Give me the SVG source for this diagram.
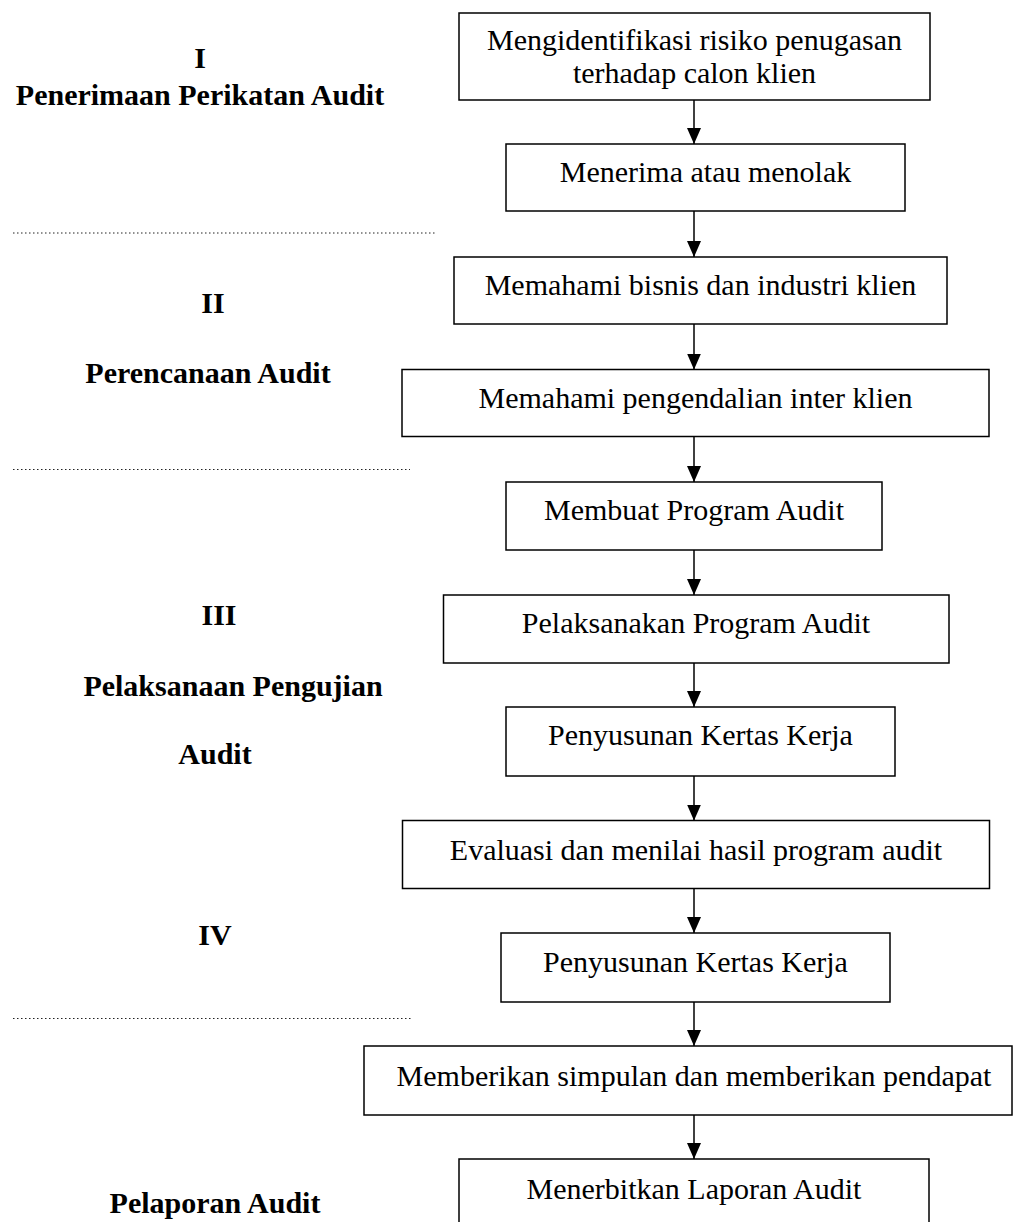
<svg xmlns="http://www.w3.org/2000/svg" width="1013" height="1222" viewBox="0 0 1013 1222">
<style>
  .box { fill: #ffffff; stroke: #000000; stroke-width: 1.5; }
  .t { font-family: "Liberation Serif", "Times New Roman", serif; font-size: 30px; fill: #000000; text-anchor: middle; }
  .lbl { font-family: "Liberation Serif", "Times New Roman", serif; font-size: 30px; font-weight: bold; fill: #000000; text-anchor: middle; }
  .conn { stroke: #000000; stroke-width: 1.5; fill: none; marker-end: url(#arrow); }
  .dot { stroke: #222222; stroke-width: 1; stroke-dasharray: 1.5 2.5; fill: none; }
</style>
<defs>
  <marker id="arrow" markerUnits="userSpaceOnUse" markerWidth="16" markerHeight="14" refX="16" refY="7" orient="auto">
    <path d="M0,0 L16,7 L0,14 z" fill="#000000"/>
  </marker>
</defs>
<rect width="1013" height="1222" fill="#ffffff"/>

<g id="separators">
  <line class="dot" x1="13" y1="233" x2="437" y2="233"/>
  <line class="dot" x1="13" y1="469.5" x2="410" y2="469.5"/>
  <line class="dot" x1="13" y1="1018.5" x2="412" y2="1018.5"/>
</g>

<g id="phase-labels">
  <text class="lbl" x="200" y="68">I</text>
  <text class="lbl" x="200" y="105">Penerimaan Perikatan Audit</text>
  <text class="lbl" x="213" y="313">II</text>
  <text class="lbl" x="208" y="383">Perencanaan Audit</text>
  <text class="lbl" x="219" y="625">III</text>
  <text class="lbl" x="233" y="696">Pelaksanaan Pengujian</text>
  <text class="lbl" x="215" y="764">Audit</text>
  <text class="lbl" x="215" y="945">IV</text>
  <text class="lbl" x="215" y="1213">Pelaporan Audit</text>
</g>

<g id="connectors">
  <line class="conn" x1="694" y1="100" x2="694" y2="144"/>
  <line class="conn" x1="694" y1="211" x2="694" y2="257"/>
  <line class="conn" x1="694" y1="324" x2="694" y2="369.5"/>
  <line class="conn" x1="694" y1="436.5" x2="694" y2="482"/>
  <line class="conn" x1="694" y1="550" x2="694" y2="595"/>
  <line class="conn" x1="694" y1="663" x2="694" y2="707"/>
  <line class="conn" x1="694" y1="776" x2="694" y2="820.5"/>
  <line class="conn" x1="694" y1="888.5" x2="694" y2="933"/>
  <line class="conn" x1="694" y1="1002" x2="694" y2="1046"/>
  <line class="conn" x1="694" y1="1115" x2="694" y2="1159"/>
</g>

<g id="n1">
  <rect class="box" x="459" y="13" width="471" height="87"/>
  <text class="t" x="694.5" y="50">Mengidentifikasi risiko penugasan</text>
  <text class="t" x="694.5" y="83">terhadap calon klien</text>
</g>
<g id="n2">
  <rect class="box" x="506" y="144" width="399" height="67"/>
  <text class="t" x="705.5" y="182">Menerima atau menolak</text>
</g>
<g id="n3">
  <rect class="box" x="454" y="257" width="493" height="67"/>
  <text class="t" x="700.5" y="295">Memahami bisnis dan industri klien</text>
</g>
<g id="n4">
  <rect class="box" x="402" y="369.5" width="587" height="67"/>
  <text class="t" x="695.5" y="408">Memahami pengendalian inter klien</text>
</g>
<g id="n5">
  <rect class="box" x="506" y="482" width="376" height="68"/>
  <text class="t" x="694" y="520">Membuat Program Audit</text>
</g>
<g id="n6">
  <rect class="box" x="443.5" y="595" width="505.5" height="68"/>
  <text class="t" x="696" y="633">Pelaksanakan Program Audit</text>
</g>
<g id="n7">
  <rect class="box" x="506" y="707" width="389" height="69"/>
  <text class="t" x="700.5" y="745">Penyusunan Kertas Kerja</text>
</g>
<g id="n8">
  <rect class="box" x="402.5" y="820.5" width="587" height="68"/>
  <text class="t" x="696" y="860">Evaluasi dan menilai hasil program audit</text>
</g>
<g id="n9">
  <rect class="box" x="501" y="933" width="389" height="69"/>
  <text class="t" x="695.5" y="972">Penyusunan Kertas Kerja</text>
</g>
<g id="n10">
  <rect class="box" x="364" y="1046" width="648" height="69"/>
  <text class="t" x="694" y="1086">Memberikan simpulan dan memberikan pendapat</text>
</g>
<g id="n11">
  <rect class="box" x="459" y="1159" width="470" height="90"/>
  <text class="t" x="694" y="1199">Menerbitkan Laporan Audit</text>
</g>
</svg>
